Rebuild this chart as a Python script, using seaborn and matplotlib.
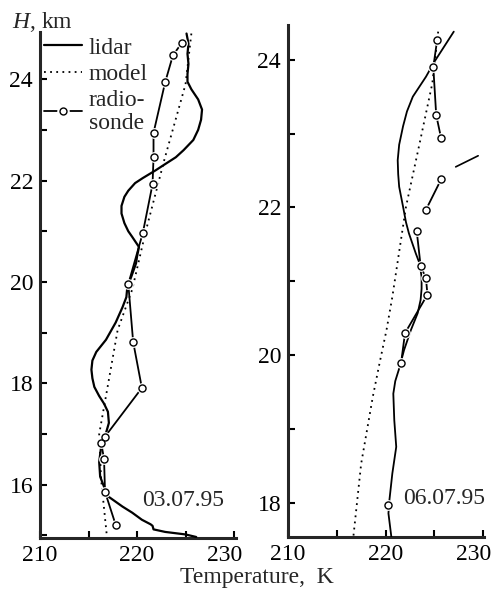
import numpy as np
import pandas as pd
import matplotlib
matplotlib.use("Agg")
import matplotlib.pyplot as plt
import matplotlib.transforms as mtransforms
import seaborn as sns
from matplotlib.lines import Line2D
from matplotlib.legend_handler import HandlerTuple

# ---------------- data ----------------
# Panel 1: 03.07.95
lidar1_H = [24.9, 24.7, 24.5, 24.3, 24.1, 23.95, 23.8, 23.6, 23.4, 23.2, 23.0, 22.8,
            22.6, 22.46, 22.3, 22.2, 22.05, 21.95, 21.8, 21.68, 21.5, 21.35, 21.16,
            21.0, 20.89, 20.69, 20.5, 20.37, 20.1, 19.9, 19.7, 19.5, 19.2, 18.86,
            18.62, 18.45, 18.27, 18.1, 17.93, 17.75, 17.6, 17.44, 17.22, 17.02,
            16.75, 16.45, 16.16, 15.96, 15.76, 15.57, 15.45, 15.31, 15.22, 15.19,
            15.12, 15.07, 15.02, 14.97]
lidar1_T = [225.1, 225.3, 225.2, 225.3, 225.2, 225.2, 225.6, 226.3, 226.7, 226.6,
            226.3, 225.8, 224.8, 224.0, 222.7, 221.9, 220.6, 219.8, 219.1, 218.7,
            218.4, 218.4, 218.7, 219.1, 219.5, 220.2, 220.0, 219.9, 219.4, 219.0,
            218.9, 218.5, 217.8, 216.8, 215.8, 215.4, 215.3, 215.4, 215.6, 216.1,
            216.6, 217.0, 217.1, 216.8, 216.3, 216.1, 216.2, 216.6, 217.1, 218.5,
            219.5, 220.5, 221.4, 221.6, 221.7, 222.9, 225.0, 226.1]
model1_H = [24.9, 23.9, 22.4, 21.0, 19.85, 19.05, 17.75, 17.0, 16.1, 14.97]
model1_T = [225.6, 225.0, 222.8, 220.9, 219.5, 218.0, 216.8, 216.1, 216.3, 216.9]
sonde1_H = [24.71, 24.47, 23.94, 22.94, 22.46, 21.93, 20.97, 19.96, 18.82, 17.91,
            16.95, 16.83, 16.51, 15.86, 15.21]
sonde1_T = [224.6, 223.7, 222.9, 221.7, 221.7, 221.6, 220.6, 219.1, 219.6, 220.5,
            216.7, 216.3, 216.6, 216.7, 217.8]
sonde1_seg = [0] * 15

# Panel 2: 06.07.95
lidar2_H = [24.38, 23.97, 23.77, 23.5, 23.3, 23.1, 22.85, 22.64, 22.45, 22.28, 22.01,
            21.8, 21.65, 21.38, 21.24, 21.06, 20.9, 20.75, 20.57, 20.34, 20.07,
            19.82, 19.65, 19.48, 19.12, 18.76, 18.4, 18.04, 17.86, 17.54]
lidar2_T = [227.0, 225.0, 224.15, 222.8, 222.2, 221.8, 221.4, 221.25, 221.3, 221.4,
            221.8, 222.1, 222.4, 223.1, 223.5, 223.7, 223.7, 223.6, 223.3, 222.6,
            221.9, 221.4, 221.0, 220.8, 220.9, 221.1, 220.7, 220.4, 220.3, 220.6]
model2_H = [24.38, 23.68, 22.87, 22.01, 21.4, 20.79, 20.34, 19.9, 19.44, 18.53, 17.54]
model2_T = [225.4, 224.8, 223.5, 222.1, 221.4, 220.7, 220.1, 219.4, 218.7, 217.5, 216.7]
sonde2_H = [24.27, 23.90, 23.25, 22.94, 22.38, 21.97, 21.68, 21.21, 21.04, 20.82,
            20.30, 19.90, 17.97]
sonde2_T = [225.3, 224.9, 225.2, 225.7, 225.7, 224.15, 223.2, 223.6, 224.15, 224.3,
            222.0, 221.6, 220.3]
sonde2_seg = [0, 0, 0, 0, 1, 1, 2, 2, 2, 2, 2, 2, 3]
stray2_H = [22.55, 22.70]
stray2_T = [227.2, 229.5]

x_ticks = [210, 215, 220, 225, 230]
x_labels = ["210", "", "220", "", "230"]

# ---------------- style ----------------
sns.set_style("ticks")
plt.rcParams["font.family"] = ["Liberation Serif", "DejaVu Serif"]
plt.rcParams["mathtext.fontset"] = "custom"
plt.rcParams["mathtext.rm"] = "Liberation Serif"
plt.rcParams["mathtext.it"] = "Liberation Serif:italic"
FS = 17

fig = plt.figure(figsize=(4.96, 5.93), dpi=100)
ax1 = fig.add_axes([40 / 496, 1 - 538 / 593, 196 / 496, 506 / 593])
ax2 = fig.add_axes([288 / 496, 1 - 537 / 593, 196 / 496, 512 / 593])

dot_style = (0, (1.0, 2.4))


def draw_panel(ax, lH, lT, mH, mT, sH, sT, sseg, lw_lidar):
    sns.lineplot(x=lT, y=lH, sort=False, estimator=None, orient="y", ax=ax,
                 color="black", lw=lw_lidar, zorder=3)
    sns.lineplot(x=mT, y=mH, sort=False, estimator=None, orient="y", ax=ax,
                 color="black", lw=1.3, linestyle=dot_style, zorder=2)
    df = pd.DataFrame({"T": sT, "H": sH, "seg": sseg})
    sns.lineplot(data=df, x="T", y="H", units="seg", sort=False, estimator=None,
                 orient="y", ax=ax, color="black", lw=1.3, zorder=4)
    sns.scatterplot(data=df, x="T", y="H", ax=ax, s=60, color="white",
                    linewidth=0, zorder=5)
    sns.scatterplot(data=df, x="T", y="H", ax=ax, s=26, facecolor="white",
                    edgecolor="black", linewidth=1.0, zorder=6)


draw_panel(ax1, lidar1_H, lidar1_T, model1_H, model1_T, sonde1_H, sonde1_T,
           sonde1_seg, 1.6)
draw_panel(ax2, lidar2_H, lidar2_T, model2_H, model2_T, sonde2_H, sonde2_T,
           sonde2_seg, 1.3)
sns.lineplot(x=stray2_T, y=stray2_H, sort=False, estimator=None, orient="y", ax=ax2,
             color="black", lw=1.2)

ax1.set_xlim(210, 230.2)
ax1.set_ylim(14.95, 24.93)
ax2.set_xlim(210, 230.1)
ax2.set_ylim(17.54, 24.47)

for ax, yt in ((ax1, range(15, 25)), (ax2, range(18, 25))):
    yt = list(yt)
    ax.set_yticks(yt)
    ax.set_yticklabels([str(v) if v % 2 == 0 else "" for v in yt])
    ax.set_xticks(x_ticks)
    ax.set_xticklabels(x_labels)
    ax.set_xlabel("")
    ax.set_ylabel("")
    for s in ("top", "right"):
        ax.spines[s].set_visible(False)
    for s in ("left", "bottom"):
        ax.spines[s].set_linewidth(2.2)
    ax.tick_params(direction="in", length=5, width=1.5, labelsize=FS, pad=5,
                   colors="black")
    ax.set_facecolor("white")
    # the last "230" label sits shifted left of its tick in the reference
    lab = ax.get_xticklabels()[-1]
    lab.set_transform(lab.get_transform() +
                      mtransforms.ScaledTranslation(-9 / 100, 0, fig.dpi_scale_trans))

# legend (left panel)
h_lidar = Line2D([], [], color="black", lw=1.6)
h_model = Line2D([], [], color="black", lw=1.3, linestyle=dot_style)
h_sonde_l = Line2D([], [], color="black", lw=1.3)
h_sonde_w = Line2D([], [], color="white", marker="o", ms=8, lw=0, mec="white")
h_sonde_c = Line2D([], [], color="black", marker="o", ms=5, lw=0, mfc="white", mew=1.0)
leg = ax1.legend([h_lidar, h_model, (h_sonde_l, h_sonde_w, h_sonde_c)],
                 ["lidar", "model", "radio-\nsonde"],
                 handler_map={tuple: HandlerTuple(ndivide=1, pad=0)},
                 loc="upper left", bbox_to_anchor=(0.02, 1 - 5 / 506), frameon=False,
                 fontsize=FS, handlelength=1.6, handletextpad=0.3, labelspacing=0.2,
                 borderaxespad=0.0, borderpad=0.0, numpoints=1)
for t in leg.get_texts():
    t.set_linespacing(1.15)

fig.text(12 / 496, 1 - 22 / 593, r"$\mathit{H}$, km", fontsize=FS, ha="left",
         va="center")
fig.text(142 / 496, 1 - 500 / 593, "03.07.95", fontsize=FS, ha="left", va="center")
fig.text(403 / 496, 1 - 498 / 593, "06.07.95", fontsize=FS, ha="left", va="center")
fig.text(257 / 496, 1 - 577 / 593, "Temperature,  K", fontsize=FS, ha="center",
         va="center")

fig.savefig("out.png", dpi=100, facecolor="white")
